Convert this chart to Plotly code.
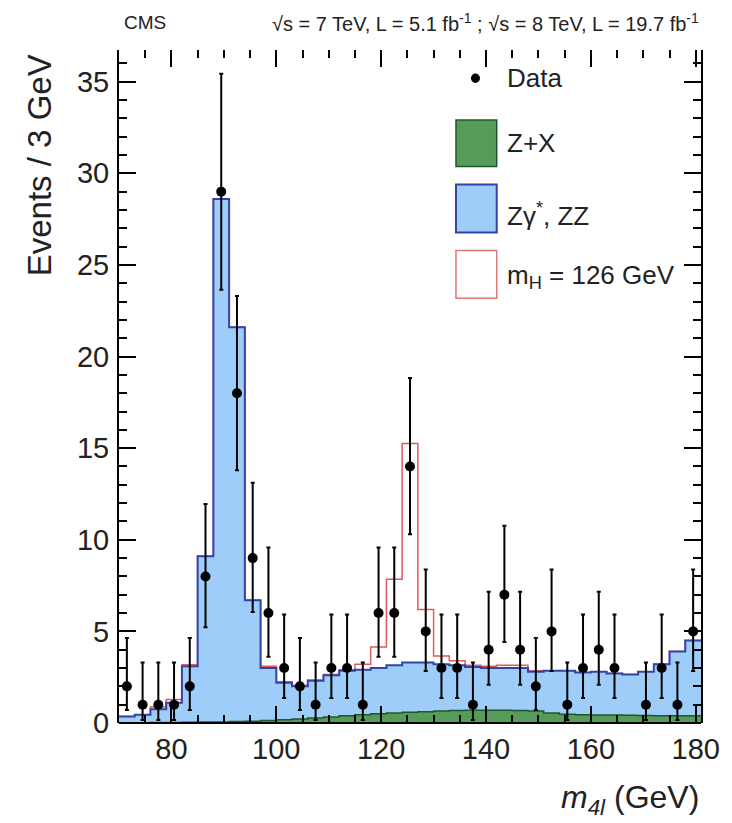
import numpy as np
import plotly.graph_objects as go

# ---------------- data ----------------
bin_edges = list(range(70, 182, 3))  # 70 ... 181, 37 bins of 3 GeV

data_counts = [2, 1, 1, 1, 2, 8, 29, 18, 9, 6, 3, 2, 1, 3, 3, 1, 6, 6, 14, 5,
               3, 3, 1, 4, 7, 4, 2, 5, 1, 3, 4, 3, None, 1, 3, 1, 5]
data_err_up = [2.64, 2.30, 2.30, 2.30, 2.64, 3.95, 6.43, 5.30, 4.11, 3.58, 2.92, 2.64,
               2.30, 2.92, 2.92, 2.30, 3.58, 3.58, 4.83, 3.38, 2.92, 2.92, 2.30, 3.16,
               3.77, 3.16, 2.64, 3.38, 2.30, 2.92, 3.16, 2.92, 0, 2.30, 2.92, 2.30, 3.38]
data_err_down = [1.29, 0.83, 0.83, 0.83, 1.29, 2.77, 5.35, 4.21, 2.94, 2.38, 1.63, 1.29,
                 0.83, 1.63, 1.63, 0.83, 2.38, 2.38, 3.70, 2.16, 1.63, 1.63, 0.83, 1.91,
                 2.58, 1.91, 1.29, 2.16, 0.83, 1.63, 1.91, 1.63, 0, 0.83, 1.63, 0.83, 2.16]

zx_bkg = [0.02, 0.02, 0.03, 0.03, 0.04, 0.05, 0.06, 0.08, 0.10, 0.14, 0.18, 0.22, 0.27,
          0.33, 0.40, 0.45, 0.50, 0.55, 0.58, 0.62, 0.65, 0.68, 0.70, 0.70, 0.70, 0.68,
          0.65, 0.55, 0.48, 0.45, 0.44, 0.43, 0.42, 0.41, 0.40, 0.40, 0.40]
zz_bkg = [0.33, 0.43, 0.72, 1.07, 3.06, 9.05, 28.54, 21.52, 6.60, 2.86, 2.02, 1.78, 2.03,
          2.27, 2.45, 2.45, 2.50, 2.60, 2.72, 2.68, 2.55, 2.47, 2.35, 2.30, 2.30, 2.32,
          2.15, 2.30, 2.37, 2.30, 2.36, 2.27, 2.23, 2.39, 2.80, 3.50, 4.10]
higgs_sig = [0, 0, 0.12, 0.18, 0.08, 0, 0, 0, 0, 0.1, 0.05, 0.05, 0.05, 0.05, 0.05, 0.3,
             1.15, 4.7, 11.95, 2.9, 0.45, 0.25, 0.1, 0.1, 0.15, 0.15, 0.05, 0, 0, 0, 0,
             0, 0, 0, 0, 0, 0]

x_ticks = [80, 100, 120, 140, 160, 180]
y_ticks = [0, 5, 10, 15, 20, 25, 30, 35]

# ---------------- derived (stacking) ----------------
edges = np.array(bin_edges, dtype=float)
centers = 0.5 * (edges[:-1] + edges[1:])
stack_zx = np.array(zx_bkg)
stack_bkg = stack_zx + np.array(zz_bkg)
stack_all = stack_bkg + np.array(higgs_sig)


def step_y(vals):
    v = list(vals)
    return v + [v[-1]]


TXTFONT = "Liberation Sans, Arial, sans-serif"
TICKFONT = dict(family=TXTFONT, size=29, color="#222")

fig = go.Figure()

# signal + background (red outline)
fig.add_trace(go.Scatter(x=edges, y=step_y(stack_all), mode="lines", line_shape="hv",
                         line=dict(color="#e05a5a", width=1.5), showlegend=False,
                         hoverinfo="skip"))
# Zgamma*, ZZ (blue)
fig.add_trace(go.Scatter(x=edges, y=step_y(stack_bkg), mode="lines", line_shape="hv",
                         fill="tozeroy", fillcolor="#9dcdf8",
                         line=dict(color="#3344a8", width=2), showlegend=False,
                         hoverinfo="skip"))
# Z+X (green)
fig.add_trace(go.Scatter(x=edges, y=step_y(stack_zx), mode="lines", line_shape="hv",
                         fill="tozeroy", fillcolor="#559c58",
                         line=dict(color="#23552a", width=1.5), showlegend=False,
                         hoverinfo="skip"))
# data
fig.add_trace(go.Scatter(x=centers, y=data_counts, mode="markers",
                         marker=dict(color="black", size=10),
                         error_y=dict(type="data", array=data_err_up, arrayminus=data_err_down,
                                      symmetric=False, color="black", thickness=2, width=2),
                         showlegend=False))

axis_common = dict(showgrid=False, zeroline=False, ticks="inside", ticklen=17,
                   tickwidth=1.5, tickcolor="black", tickfont=TICKFONT,
                   ticklabeloverflow="allow")

fig.update_xaxes(range=[70, 181], tickvals=x_ticks, showline=False, mirror="ticks",
                 minor=dict(dtick=5, tick0=0, ticks="inside", ticklen=8, tickwidth=1.5,
                            tickcolor="black", showgrid=False),
                 ticklabelstandoff=6, **axis_common)
fig.update_yaxes(range=[0, 36.73], tickvals=y_ticks, showline=True, linecolor="black",
                 linewidth=2, mirror="ticks",
                 minor=dict(dtick=1, tick0=0, ticks="inside", ticklen=8, tickwidth=1.5,
                            tickcolor="black", showgrid=False),
                 ticklabelstandoff=2, **axis_common)

shapes = [
    # bottom axis line
    dict(type="line", xref="paper", yref="paper", x0=0, x1=1, y0=0, y1=0,
         line=dict(color="black", width=2), layer="above"),
    # legend: data dot
    dict(type="circle", xref="paper", yref="paper", x0=0.6125 - 0.0078, x1=0.6125 + 0.0078,
         y0=0.958 - 0.0069, y1=0.958 + 0.0069, fillcolor="black", line=dict(color="black", width=0)),
    # legend: Z+X
    dict(type="rect", xref="paper", yref="paper", x0=0.579, x1=0.649, y0=0.827, y1=0.896,
         fillcolor="#559c58", line=dict(color="#23552a", width=1.5)),
    # legend: ZZ
    dict(type="rect", xref="paper", yref="paper", x0=0.579, x1=0.649, y0=0.729, y1=0.800,
         fillcolor="#9dcdf8", line=dict(color="#3344a8", width=2)),
    # legend: mH
    dict(type="rect", xref="paper", yref="paper", x0=0.579, x1=0.649, y0=0.631, y1=0.702,
         fillcolor="white", line=dict(color="#e07575", width=1.5)),
]

lfont = dict(family=TXTFONT, size=26, color="#222")
annotations = [
    dict(text="Data", x=0.663, y=0.958, xref="paper", yref="paper", xanchor="left",
         yanchor="middle", showarrow=False, font=lfont),
    dict(text="Z+X", x=0.663, y=0.862, xref="paper", yref="paper", xanchor="left",
         yanchor="middle", showarrow=False, font=lfont),
    dict(text="Zγ<sup>*</sup>, ZZ", x=0.663, y=0.755, xref="paper", yref="paper", xanchor="left",
         yanchor="middle", showarrow=False, font=lfont),
    dict(text="m<sub>H</sub> = 126 GeV", x=0.663, y=0.663, xref="paper", yref="paper",
         xanchor="left", yanchor="middle", showarrow=False, font=lfont),
    dict(text="CMS", x=0.005, y=1.0416, xref="paper", yref="paper", xanchor="left",
         yanchor="middle", showarrow=False, font=dict(family=TXTFONT, size=19, color="#222")),
    dict(text="√s = 7 TeV, L = 5.1 fb<sup>-1</sup> ; √s = 8 TeV, L = 19.7 fb<sup>-1</sup>",
         x=1.0, y=1.0416, xref="paper", yref="paper", xanchor="right", yanchor="middle",
         showarrow=False, font=dict(family=TXTFONT, size=20, color="#222")),
    dict(text="Events / 3 GeV", x=-0.137, y=0.997, xref="paper", yref="paper",
         xanchor="center", yanchor="top", textangle=-90, showarrow=False,
         font=dict(family=TXTFONT, size=33, color="#222")),
    dict(text="<i>m</i><sub><i>4l</i></sub> (GeV)", x=1.0, y=-0.1144, xref="paper",
         yref="paper", xanchor="right", yanchor="middle", showarrow=False,
         font=dict(family=TXTFONT, size=32, color="#222")),
]

# the page body keeps its default 8px margin: size the figure so the plot area lands at
# x 119..711, y 50..723 inside the 732x823 window
fig.update_layout(width=724, height=815, margin=dict(l=111, r=21, t=42, b=100),
                  plot_bgcolor="white", paper_bgcolor="white",
                  shapes=shapes, annotations=annotations, showlegend=False)

fig.write_html("out.html", config={"displayModeBar": False})
